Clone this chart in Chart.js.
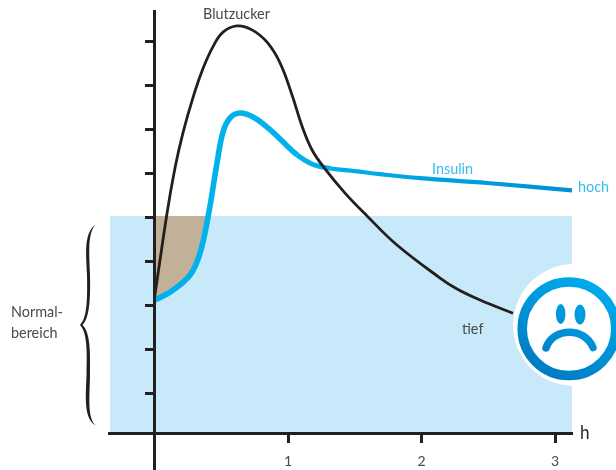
<!DOCTYPE html>
<html lang="de">
<head>
<meta charset="utf-8">
<title>Blutzucker und Insulin</title>
<script src="https://cdn.jsdelivr.net/npm/chart.js@4"></script>
<style>
    html, body { margin: 0; padding: 0; background: #fff; }
    canvas { display: block; }
</style>
</head>
<body>
<canvas id="chart" width="616" height="470"></canvas>
<script>
// Values (x in hours, y in axis tick units)
const hourTicks = [1, 2, 3];
const levelTicks = [1, 2, 3, 4, 5, 6, 7, 8, 9];

const bloodSugarHours = [0, 0.094, 0.154, 0.213, 0.288, 0.363, 0.438, 0.513, 0.618, 0.73, 0.843, 0.94, 1.03, 1.105, 1.18, 1.277, 1.427, 1.592, 1.816, 2.139, 2.266, 2.438, 2.685];
const bloodSugarLevels = [3.17, 5.1, 6.13, 6.92, 7.72, 8.38, 8.88, 9.21, 9.35, 9.26, 8.98, 8.51, 7.78, 7.07, 6.53, 6.1, 5.55, 5.03, 4.37, 3.62, 3.37, 3.12, 2.82];

const insulinHours = [0, 0.116, 0.266, 0.341, 0.401, 0.468, 0.513, 0.566, 0.64, 0.738, 0.843, 0.94, 1.067, 1.187, 1.32, 1.5, 1.689, 1.989, 2.491, 3.127];
const insulinLevels = [3.12, 3.3, 3.69, 4.19, 5.01, 6.23, 6.94, 7.26, 7.37, 7.28, 7.05, 6.78, 6.42, 6.2, 6.11, 6.05, 5.98, 5.89, 5.78, 5.61];

// Area between the axis and the insulin curve, up to the top of the normal range
const deficitHours = [0, 0.116, 0.266, 0.341, 0.401];
const deficitLevels = [3.12, 3.3, 3.69, 4.19, 5.03];

const normalRangeHours = [-0.335, 3.127];
const normalRangeLevels = [5.03, 5.03];

const axisBaseline = 0.09;

const labelBloodSugar = 'Blutzucker';
const labelInsulin = 'Insulin';
const labelHigh = 'hoch';
const labelLow = 'tief';
const labelNormal = ['Normal-', 'bereich'];
const labelUnit = 'h';

const BLACK = '#231f20';
const TEXT_GREY = '#4a4a4a';
const CYAN = '#00b1ec';
const LABEL_CYAN = '#38bcf0';
const FONT = '"Lato", sans-serif';

function toPoints(xs, ys) {
    return xs.map((x, i) => ({ x, y: ys[i] }));
}

/**
 * Curly brace next to the normal range, thicker in the middle of each arm
 */
function drawBrace(ctx) {
    ctx.save();
    ctx.fillStyle = BLACK;
    ctx.beginPath();
    ctx.moveTo(95.5, 224.5);
    ctx.bezierCurveTo(83, 234, 86.5, 255, 87, 275);
    ctx.bezierCurveTo(87.5, 300, 87, 318, 80, 325);
    ctx.bezierCurveTo(87, 332, 87.2, 350, 86.5, 375);
    ctx.bezierCurveTo(85.5, 400, 84, 418, 95.5, 425.5);
    ctx.bezierCurveTo(87.5, 417, 89.5, 400, 90, 375);
    ctx.bezierCurveTo(90.5, 350, 90, 332, 82.5, 325);
    ctx.bezierCurveTo(89.5, 318, 90.5, 300, 90, 275);
    ctx.bezierCurveTo(89.5, 255, 87, 234, 95.5, 224.5);
    ctx.fill();
    ctx.restore();
}

/**
 * White blob and sad face over the end of the blood sugar curve
 */
function drawFace(ctx) {
    const cx = 569;
    const cy = 328.7;

    ctx.save();
    ctx.fillStyle = '#fff';
    ctx.beginPath();
    ctx.arc(574, 325, 61, 0, Math.PI * 2);
    ctx.fill();

    const gradient = ctx.createLinearGradient(cx + 30, cy - 50, cx - 25, cy + 50);
    gradient.addColorStop(0, '#00aeef');
    gradient.addColorStop(1, '#0079c1');
    ctx.strokeStyle = gradient;
    ctx.fillStyle = gradient;

    ctx.lineWidth = 9.5;
    ctx.beginPath();
    ctx.arc(cx, cy, 46.8, 0, Math.PI * 2);
    ctx.stroke();

    ctx.beginPath();
    ctx.ellipse(560.7, 314, 4.8, 10, 0, 0, Math.PI * 2);
    ctx.fill();
    ctx.beginPath();
    ctx.ellipse(580, 314.5, 5.5, 10, 0, 0, Math.PI * 2);
    ctx.fill();

    ctx.lineWidth = 7.5;
    ctx.lineCap = 'round';
    ctx.beginPath();
    ctx.moveTo(546, 348);
    ctx.bezierCurveTo(553, 327, 585, 327, 593, 347.5);
    ctx.stroke();
    ctx.restore();
}

// The reference type is a narrow face, so Lato is squeezed a little
function drawText(ctx, text, x, y, color, size) {
    ctx.save();
    ctx.translate(x, y);
    ctx.scale(0.9, 1);
    ctx.fillStyle = color;
    ctx.font = `${size}px ${FONT}`;
    ctx.fillText(text, 0, 0);
    ctx.restore();
}

const decorations = {
    id: 'decorations',
    afterDraw(chart) {
        const ctx = chart.ctx;
        drawBrace(ctx);
        drawFace(ctx);

        ctx.save();
        ctx.textAlign = 'left';
        ctx.textBaseline = 'alphabetic';
        drawText(ctx, labelBloodSugar, 203, 19, TEXT_GREY, 16);
        drawText(ctx, labelInsulin, 432, 174, LABEL_CYAN, 16);
        drawText(ctx, labelHigh, 578, 192, LABEL_CYAN, 16);
        drawText(ctx, labelLow, 462, 334, TEXT_GREY, 16);
        drawText(ctx, labelNormal[0], 11, 317, TEXT_GREY, 16);
        drawText(ctx, labelNormal[1], 11, 338, TEXT_GREY, 16);
        drawText(ctx, labelUnit, 580, 439, BLACK, 19);
        ctx.restore();
    }
};

const canvas = document.getElementById('chart');

// Insulin line gets darker and thinner towards its right end
const insulinFade = canvas.getContext('2d').createLinearGradient(310, 0, 572, 0);
insulinFade.addColorStop(0, CYAN);
insulinFade.addColorStop(1, '#0090d5');

function insulinWidth(part) {
    if (part.p0.parsed.x > 1.2) return 4.2;
    if (part.p0.parsed.x > 1.0) return 5;
    return 5.6;
}

new Chart(canvas, {
    type: 'line',
    data: {
        datasets: [
            {
                label: labelBloodSugar,
                data: toPoints(bloodSugarHours, bloodSugarLevels),
                borderColor: BLACK,
                borderWidth: 2.8,
                tension: 0.4,
                pointRadius: 0,
                fill: false
            },
            {
                label: labelInsulin,
                data: toPoints(insulinHours, insulinLevels),
                borderColor: insulinFade,
                borderWidth: 5,
                tension: 0.4,
                segment: { borderWidth: insulinWidth },
                pointRadius: 0,
                fill: false
            },
            {
                label: 'Defizit',
                data: toPoints(deficitHours, deficitLevels),
                borderWidth: 0,
                borderColor: 'transparent',
                backgroundColor: '#c2b199',
                tension: 0.4,
                pointRadius: 0,
                fill: { value: normalRangeLevels[0] }
            },
            {
                label: labelNormal.join(''),
                data: toPoints(normalRangeHours, normalRangeLevels),
                borderWidth: 0,
                borderColor: 'transparent',
                backgroundColor: '#c7e9fa',
                pointRadius: 0,
                fill: { value: axisBaseline }
            }
        ]
    },
    options: {
        responsive: false,
        animation: false,
        layout: {
            padding: { left: 109, right: 44, top: 11, bottom: 0 }
        },
        plugins: {
            legend: { display: false },
            tooltip: { enabled: false }
        },
        scales: {
            x: {
                type: 'linear',
                min: -0.341,
                max: 3.127,
                position: { y: axisBaseline },
                afterBuildTicks: scale => {
                    scale.ticks = hourTicks.map(value => ({ value }));
                },
                border: { color: BLACK, width: 3, z: 1 },
                grid: { drawOnChartArea: false, drawTicks: true, tickLength: 8, tickWidth: 3, tickColor: BLACK, z: 1 },
                ticks: {
                    autoSkip: false,
                    maxRotation: 0,
                    padding: 12,
                    color: TEXT_GREY,
                    font: { family: FONT, size: 14 },
                    z: 1
                }
            },
            y: {
                type: 'linear',
                min: -0.743,
                max: 9.689,
                position: { x: 0 },
                afterBuildTicks: scale => {
                    scale.ticks = levelTicks.map(value => ({ value }));
                },
                border: { color: BLACK, width: 3, z: 1 },
                grid: { drawOnChartArea: false, drawTicks: true, tickLength: 8, tickWidth: 3, tickColor: BLACK, z: 1 },
                ticks: { display: false }
            }
        }
    },
    plugins: [decorations]
});
</script>
</body>
</html>
